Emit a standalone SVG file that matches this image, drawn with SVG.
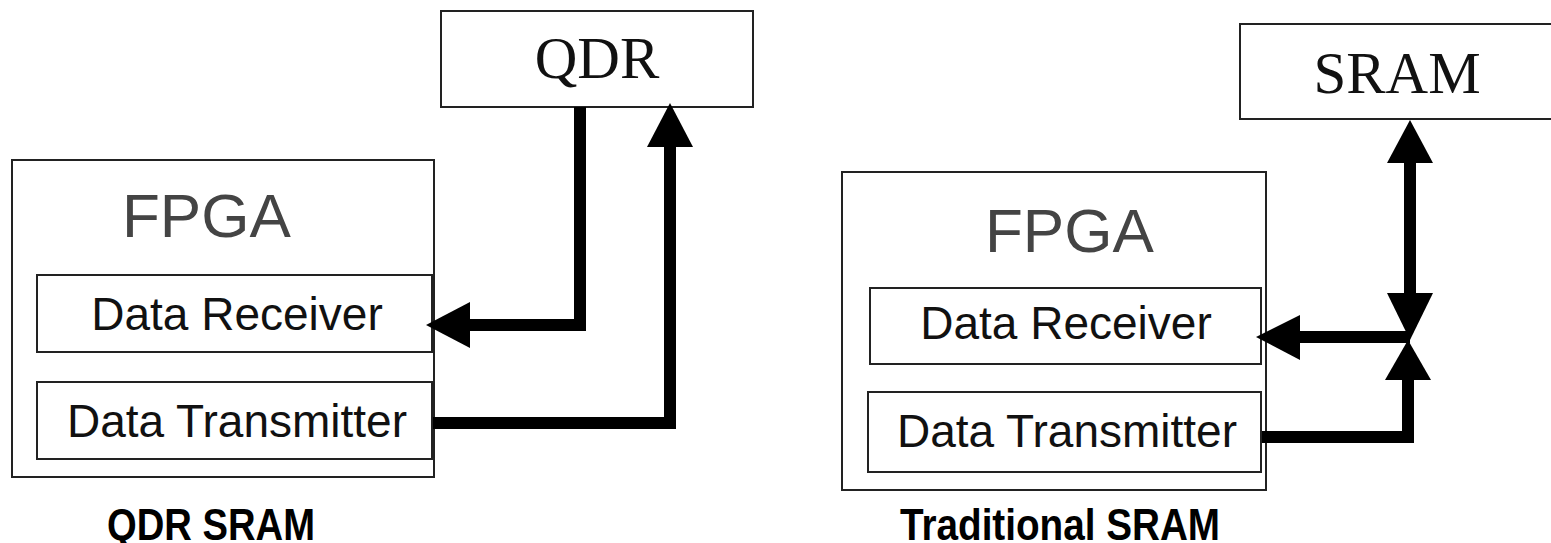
<svg xmlns="http://www.w3.org/2000/svg" width="1551" height="543" viewBox="0 0 1551 543">
<style>
.box{fill:#fff;stroke:#222;stroke-width:2}
.fpga{font-family:"Liberation Sans",Arial,sans-serif;font-size:62px;fill:#444}
.mem{font-family:"Liberation Serif","Times New Roman",serif;font-size:59px;fill:#111;text-anchor:middle}
.blk{font-family:"Liberation Sans",Arial,sans-serif;font-size:46px;fill:#111;text-anchor:middle}
.cap{font-family:"Liberation Sans Narrow","Liberation Sans",Arial,sans-serif;font-weight:bold;font-size:45px;fill:#000}
.wire{fill:none;stroke:#000;stroke-width:12;stroke-linejoin:miter}
.head{fill:#000}
</style>
<rect width="1551" height="543" fill="#fff"/>
<g id="qdr-fpga">
<rect class="box" x="12" y="160" width="422" height="317"/>
<text class="fpga" x="122" y="237">FPGA</text>
</g>
<g id="qdr-receiver">
<rect class="box" x="37" y="275" width="395" height="77"/>
<text class="blk" x="237" y="330">Data Receiver</text>
</g>
<g id="qdr-transmitter">
<rect class="box" x="37" y="382" width="395" height="77"/>
<text class="blk" x="237" y="437">Data Transmitter</text>
</g>
<g id="qdr">
<rect class="box" x="441" y="11" width="312" height="96"/>
<text class="mem" x="597" y="78">QDR</text>
</g>
<g id="trad-fpga">
<rect class="box" x="842" y="172" width="424" height="318"/>
<text class="fpga" x="985" y="252">FPGA</text>
</g>
<g id="trad-receiver">
<rect class="box" x="870" y="288" width="391" height="76"/>
<text class="blk" x="1066" y="339">Data Receiver</text>
</g>
<g id="trad-transmitter">
<rect class="box" x="868" y="392" width="393" height="80"/>
<text class="blk" x="1067" y="447">Data Transmitter</text>
</g>
<g id="sram">
<rect class="box" x="1240" y="24" width="318" height="95"/>
<text class="mem" x="1397" y="93">SRAM</text>
</g>
<g id="connectors">
<polyline class="wire" points="580,107 580,325 466,325"/>
<polygon class="head" points="426,325 470,302 470,348"/>
<polyline class="wire" points="433,423 670,423 670,145"/>
<polygon class="head" points="670,103 647,147 693,147"/>
<line class="wire" x1="1410" y1="160" x2="1410" y2="296"/>
<polygon class="head" points="1410,120 1387,163 1433,163"/>
<polygon class="head" points="1410,340 1387,293 1433,293"/>
<line class="wire" x1="1410" y1="337" x2="1296" y2="337"/>
<polygon class="head" points="1256,337 1300,315 1300,360"/>
<polyline class="wire" points="1262,437 1408,437 1408,376"/>
<polygon class="head" points="1408,340 1385,380 1431,380"/>
</g>
<g id="captions">
<text class="cap" x="107" y="540" textLength="208" lengthAdjust="spacingAndGlyphs">QDR SRAM</text>
<text class="cap" x="900" y="540" textLength="320" lengthAdjust="spacingAndGlyphs">Traditional SRAM</text>
</g>
</svg>
